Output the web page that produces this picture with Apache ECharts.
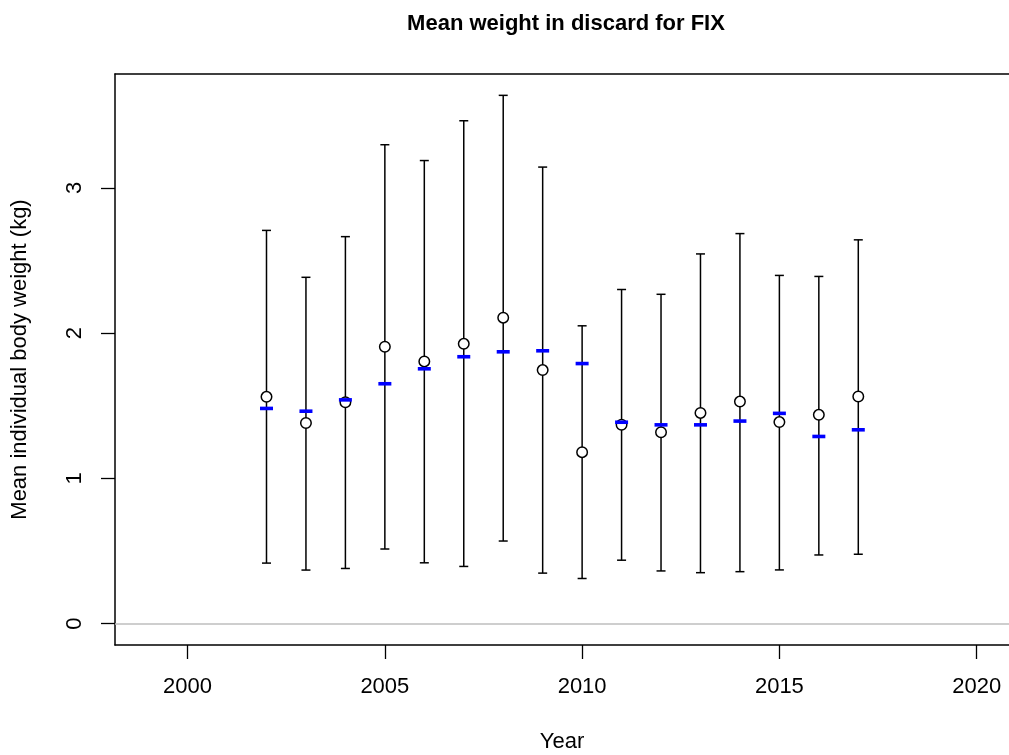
<!DOCTYPE html>
<html>
<head>
<meta charset="utf-8">
<script src="https://cdn.jsdelivr.net/npm/echarts@6/dist/echarts.min.js"></script>
<style>
html,body{margin:0;padding:0;background:#fff;}
#chart{width:1009px;height:755px;}
</style>
</head>
<body>
<div id="chart"></div>
<script>
const years = [2002,2003,2004,2005,2006,2007,2008,2009,2010,2011,2012,2013,2014,2015,2016,2017];
const lower = [0.416,0.368,0.379,0.513,0.418,0.393,0.568,0.347,0.310,0.436,0.362,0.350,0.357,0.369,0.472,0.477];
const upper = [2.707,2.384,2.664,3.297,3.188,3.462,3.637,3.143,2.050,2.300,2.267,2.545,2.685,2.397,2.390,2.642];
const observed = [1.561,1.381,1.524,1.906,1.805,1.926,2.106,1.745,1.180,1.368,1.317,1.450,1.528,1.387,1.437,1.563];
const predicted = [1.481,1.462,1.540,1.651,1.754,1.837,1.871,1.878,1.790,1.386,1.368,1.368,1.394,1.447,1.288,1.334];
const xTicks = [2000,2005,2010,2015,2020];
const yTicks = [0,1,2,3];

const FONT = '"Liberation Sans", Arial, sans-serif';
const chart = echarts.init(document.getElementById('chart'), null, {renderer:'canvas'});

const errData = years.map((y,i)=>[y, lower[i], upper[i]]);
const obsData = years.map((y,i)=>[y, observed[i]]);
const predData = years.map((y,i)=>[y, predicted[i]]);

const XMIN = 1998.16, XMAX = 2020.82;
const frame = {show:true, onZero:false, lineStyle:{color:'#000', width:1.5}};

chart.setOption({
  animation:false,
  backgroundColor:'#fff',
  title:{
    text:'Mean weight in discard for FIX',
    left:561, top:8, textAlign:'center',
    textStyle:{fontFamily:FONT,fontSize:22,fontWeight:'bold',color:'#000'}
  },
  grid:{left:115, top:74, height:571, right:0, show:false, containLabel:false, outerBoundsMode:'none'},
  xAxis:[{
    type:'value', min:XMIN, max:XMAX, position:'bottom',
    name:'Year', nameLocation:'middle', nameGap:86,
    nameTextStyle:{fontFamily:FONT,fontSize:22,color:'#000'},
    axisLine:frame,
    splitLine:{show:false},
    axisTick:{show:true, length:14, lineStyle:{color:'#000',width:1.3}, customValues:xTicks},
    axisLabel:{fontFamily:FONT,fontSize:22,color:'#000',margin:31,customValues:xTicks,formatter:v=>String(v)}
  },{
    type:'value', min:XMIN, max:XMAX, position:'top',
    axisLine:frame, axisTick:{show:false}, axisLabel:{show:false}, splitLine:{show:false}
  }],
  yAxis:{
    type:'value', min:-0.148, max:3.784, position:'left',
    name:'Mean individual body weight (kg)', nameLocation:'middle', nameGap:84,
    nameTextStyle:{fontFamily:FONT,fontSize:22,color:'#000'},
    axisLine:frame,
    splitLine:{show:false},
    axisTick:{show:true, length:14, lineStyle:{color:'#000',width:1.3}, customValues:yTicks},
    axisLabel:{fontFamily:FONT,fontSize:22,color:'#000',margin:29,rotate:90,customValues:yTicks,formatter:v=>String(v)}
  },
  series:[
    {
      type:'line', data:[], silent:true,
      markLine:{silent:true, symbol:'none', label:{show:false},
        lineStyle:{color:'#bebebe', width:1.5, type:'solid'},
        data:[{yAxis:0}]}
    },
    {
      type:'custom', silent:true, z:2,
      data:errData,
      renderItem:function(params, api){
        const x = api.value(0);
        const lo = api.coord([x, api.value(1)]);
        const hi = api.coord([x, api.value(2)]);
        const hw = 4.5;
        const style = {stroke:'#000', lineWidth:1.5, fill:null};
        return {type:'group', children:[
          {type:'line', shape:{x1:lo[0],y1:lo[1],x2:hi[0],y2:hi[1]}, style:style},
          {type:'line', shape:{x1:lo[0]-hw,y1:lo[1],x2:lo[0]+hw,y2:lo[1]}, style:style},
          {type:'line', shape:{x1:hi[0]-hw,y1:hi[1],x2:hi[0]+hw,y2:hi[1]}, style:style}
        ]};
      }
    },
    {
      type:'scatter', data:obsData, z:3, silent:true,
      symbol:'circle', symbolSize:10.5,
      itemStyle:{color:'#fff', borderColor:'#000', borderWidth:1.5, opacity:1}
    },
    {
      type:'scatter', data:predData, z:4, silent:true,
      symbol:'rect', symbolSize:[13,3.6],
      itemStyle:{color:'#0000ff', opacity:1}
    }
  ]
});
</script>
</body>
</html>
